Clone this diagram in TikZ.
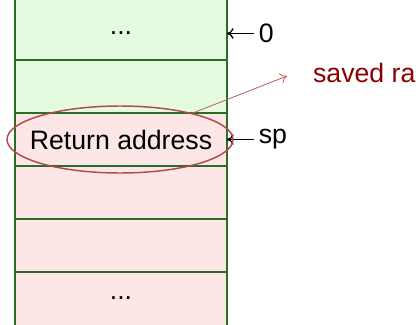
\documentclass[tikz,border=0pt]{standalone}
\usepackage{fontspec}
\setmainfont{Liberation Sans}
\usetikzlibrary{shapes.geometric, arrows, arrows.meta, positioning}

\definecolor{stackgreen}{RGB}{229,251,224}
\definecolor{stackpink}{RGB}{252,230,230}
\definecolor{stackline}{RGB}{40,110,40}
\definecolor{raline}{RGB}{180,75,75}
\definecolor{ratext}{RGB}{139,0,0}

\begin{document}
\begin{tikzpicture}[
  x=0.75pt, y=-0.75pt,
  font=\fontsize{20}{24}\selectfont,
  cell/.style={minimum width=159pt, minimum height=39.75pt, inner sep=0pt, outer sep=0pt},
  ->, >={To[length=5pt, width=8pt]}, line width=1pt]

  \useasboundingbox (0,0) rectangle (418,325);

  \node[cell, fill=stackgreen, anchor=north west] (cell1) at (15,7) {...};
  \node[cell, fill=stackgreen, below=0pt of cell1] (cell2) {};
  \node[cell, fill=stackpink, below=0pt of cell2] (cell3) {Return address};
  \node[cell, fill=stackpink, below=0pt of cell3] (cell4) {};
  \node[cell, fill=stackpink, below=0pt of cell4] (cell5) {};
  \node[cell, fill=stackpink, below=0pt of cell5] (cell6) {...};
  \fill[stackgreen] (cell1.north west) rectangle ++(212,-8);

  % column edges
  \draw[-, stackline, line width=0.9pt] (cell1.north west) ++(0,-8) -- (cell6.south west);
  \draw[-, stackline, line width=0.9pt] (cell1.north east) ++(0,-8) -- (cell6.south east);
  \foreach \i in {1,...,5}
    \draw[-, stackline, line width=0.9pt] (cell\i.south west) -- (cell\i.south east);

  \node[right=20pt of cell1] (zero) {0};
  \node[right=20pt of cell3] (sp) {sp};
  \draw (zero.west) -- (cell1.east);
  \draw (sp.west) -- (cell3.east);

  \node[ellipse, draw=raline, line width=1.1pt, minimum width=169.5pt, minimum height=50.25pt] (raring) at (120,139.5) {};
  \coordinate (rahead) at (287,76);
  \node[text=ratext, anchor=west] (savedra) at (308,73) {saved ra};
  \draw[raline!90, semithick] (raring.20) -- (rahead);
\end{tikzpicture}
\end{document}
